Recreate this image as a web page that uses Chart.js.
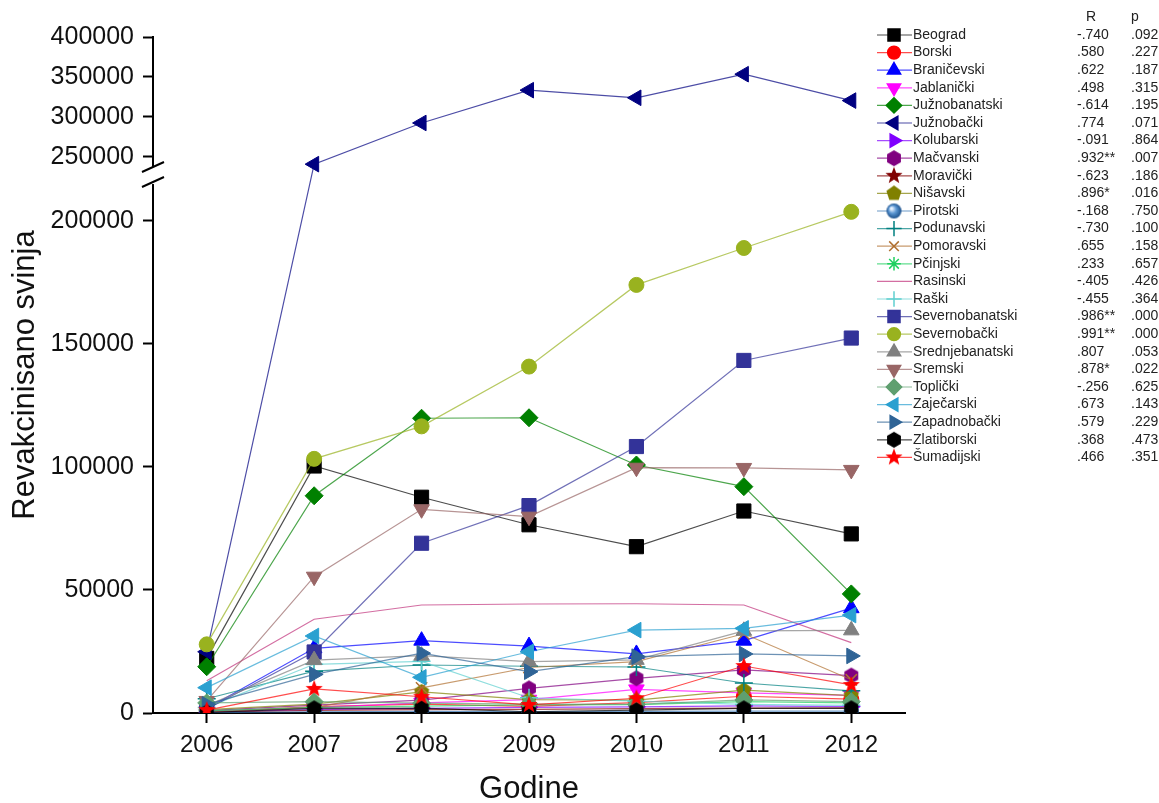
<!DOCTYPE html>
<html lang="sr">
<head>
  <meta charset="UTF-8">
  <title>Revakcinisano svinja po okruzima</title>
  <style>
    body { margin: 0; background: #fff; }
    #wrap { width: 1159px; height: 803px; }
  </style>
  <script src="https://cdn.jsdelivr.net/npm/chart.js"></script>
</head>
<body>
<div id="wrap"><canvas id="chart" width="1159" height="803"></canvas></div>
<script>
// ---- data ----
var years = ['2006', '2007', '2008', '2009', '2010', '2011', '2012'];
var yTicks = [0, 50000, 100000, 150000, 200000, 250000, 300000, 350000, 400000];

var districts = ['Beograd', 'Borski', 'Braničevski', 'Jablanički', 'Južnobanatski', 'Južnobački',
  'Kolubarski', 'Mačvanski', 'Moravički', 'Nišavski', 'Pirotski', 'Podunavski', 'Pomoravski',
  'Pčinjski', 'Rasinski', 'Raški', 'Severnobanatski', 'Severnobački', 'Srednjebanatski',
  'Sremski', 'Toplički', 'Zaječarski', 'Zapadnobački', 'Zlatiborski', 'Šumadijski'];
var rValues = ['-.740', '.580', '.622', '.498', '-.614', '.774', '-.091', '.932**', '-.623', '.896*',
  '-.168', '-.730', '.655', '.233', '-.405', '-.455', '.986**', '.991**', '.807', '.878*',
  '-.256', '.673', '.579', '.368', '.466'];
var pValues = ['.092', '.227', '.187', '.315', '.195', '.071', '.864', '.007', '.186', '.016',
  '.750', '.100', '.158', '.657', '.426', '.364', '.000', '.000', '.053', '.022',
  '.625', '.143', '.229', '.473', '.351'];

var beograd = [22200, 100400, 87700, 76500, 67600, 82100, 72800];
var borski = [300, 2600, 3600, 2700, 4200, 6800, 5600];
var branicevski = [1800, 26300, 29400, 27200, 24000, 29400, 42600];
var jablanicki = [700, 2200, 4100, 5400, 9600, 8200, 7200];
var juznobanatski = [18800, 88300, 119800, 120000, 100800, 92000, 48400];
var juznobacki = [24900, 241000, 292500, 333500, 324000, 353500, 320500];
var kolubarski = [400, 1400, 1900, 2300, 2500, 2900, 2600];
var macvanski = [1000, 3200, 5200, 10000, 14100, 17500, 15200];
var moravicki = [300, 1100, 1400, 1500, 1800, 2000, 2100];
var nisavski = [1400, 3600, 8600, 5400, 5200, 9300, 7100];
var pirotski = [150, 500, 700, 600, 700, 800, 800];
var podunavski = [5800, 17000, 19500, 19000, 18700, 12200, 9000];
var pomoravski = [500, 2200, 10200, 18500, 20900, 32200, 13500];
var pcinjski = [900, 2300, 2800, 3300, 3400, 4600, 4100];
var rasinski = [13100, 38100, 43900, 44300, 44400, 43900, 28600];
var raski = [2200, 19800, 21000, 6200, 4800, 3500, 3100];
var severnobanatski = [1500, 24800, 69000, 84300, 108300, 143300, 152400];
var severnobacki = [27900, 103300, 116500, 140800, 174000, 189000, 203700];
var srednjebanatski = [3000, 21500, 23300, 20900, 21600, 33400, 33600];
var sremski = [4900, 55400, 82800, 79800, 99700, 99600, 98800];
var toplicki = [4100, 4600, 4000, 3600, 3500, 5300, 4600];
var zajecarski = [10300, 31300, 14500, 24900, 33700, 34400, 39800];
var zapadnobacki = [3500, 15700, 24300, 16800, 22900, 24000, 23200];
var zlatiborski = [200, 1900, 2000, 500, 1200, 1900, 1900];
var sumadijski = [1200, 9800, 6600, 3300, 6000, 19100, 11400];

var seriesData = [beograd, borski, branicevski, jablanicki, juznobanatski, juznobacki,
  kolubarski, macvanski, moravicki, nisavski, pirotski, podunavski, pomoravski,
  pcinjski, rasinski, raski, severnobanatski, severnobacki, srednjebanatski,
  sremski, toplicki, zajecarski, zapadnobacki, zlatiborski, sumadijski];

// ---- styles ----
var colors = ['#000000', '#ff0000', '#0000ff', '#ff00ff', '#008000', '#000080',
  '#8000ff', '#800080', '#800000', '#808000', '#2f6fb0', '#008080', '#b07030',
  '#20d060', '#c0307a', '#60d0d0', '#333399', '#99b21f', '#808080',
  '#996666', '#5f9f6f', '#2aa0d0', '#2f6496', '#000000', '#ff0000'];
// [pointStyle, rotation, radius]
var markers = [
  ['rect', 0, 10], ['circle', 0, 7.5], ['triangle', 0, 9], ['triangle', 180, 9],
  ['rectRot', 0, 9], ['triangle', 270, 9], ['triangle', 90, 9], ['hexagon', 0, 8],
  ['star5', 0, 9], ['pentagon', 0, 8], ['sphere', 0, 7.5], ['cross', 0, 9],
  ['crossRot', 0, 8], ['star', 0, 8], ['none', 0, 0], ['cross', 0, 9],
  ['rect', 0, 10], ['circle', 0, 7.5], ['triangle', 0, 9], ['triangle', 180, 9],
  ['rectRot', 0, 9], ['triangle', 270, 9], ['triangle', 90, 9], ['hexagon', 0, 8],
  ['star5', 0, 9]
];

// axis break settings
var BREAK_LOW = 215000, BREAK_HIGH = 240000, Y_MAX = 400000;
var LOW_FRAC = 0.7825, HIGH_FRAC = 0.8107;
var FONT = 'Arial, "Liberation Sans", sans-serif';

function fade(hex, a) {
  var n = parseInt(hex.slice(1), 16);
  return 'rgba(' + (n >> 16) + ',' + ((n >> 8) & 255) + ',' + (n & 255) + ',' + a + ')';
}

// small canvases for the marker shapes Chart.js doesn't have
function makeMarker(shape, color, r) {
  var size = Math.ceil(r * 2) + 2;
  var c = document.createElement('canvas');
  c.width = size; c.height = size;
  var g = c.getContext('2d');
  var cx = size / 2, cy = size / 2, k, a;
  g.fillStyle = color;
  g.beginPath();
  if (shape === 'hexagon' || shape === 'pentagon') {
    var n = shape === 'hexagon' ? 6 : 5;
    for (k = 0; k < n; k++) {
      a = -Math.PI / 2 + k * 2 * Math.PI / n;
      g.lineTo(cx + r * Math.cos(a), cy + r * Math.sin(a));
    }
  } else if (shape === 'star5') {
    for (k = 0; k < 10; k++) {
      a = -Math.PI / 2 + k * Math.PI / 5;
      var rr = k % 2 === 0 ? r : r * 0.42;
      g.lineTo(cx + rr * Math.cos(a), cy + rr * Math.sin(a));
    }
  } else if (shape === 'sphere') {
    var grad = g.createRadialGradient(cx - r * 0.35, cy - r * 0.35, 1, cx, cy, r);
    grad.addColorStop(0, '#e8f2ff');
    grad.addColorStop(0.45, '#5a96d2');
    grad.addColorStop(1, '#1a4f8a');
    g.fillStyle = grad;
    g.arc(cx, cy, r, 0, Math.PI * 2);
  }
  g.closePath();
  g.fill();
  return c;
}

function pointStyleFor(i) {
  var m = markers[i];
  if (m[0] === 'hexagon' || m[0] === 'pentagon' || m[0] === 'star5' || m[0] === 'sphere') {
    return makeMarker(m[0], colors[i], m[2]);
  }
  return m[0] === 'none' ? 'circle' : m[0];
}

// ---- y scale with a break between 215000 and 240000 ----
function toDecimal(v) {
  if (v <= BREAK_LOW) return v / BREAK_LOW * LOW_FRAC;
  if (v >= BREAK_HIGH) return HIGH_FRAC + (v - BREAK_HIGH) / (Y_MAX - BREAK_HIGH) * (1 - HIGH_FRAC);
  return LOW_FRAC + (v - BREAK_LOW) / (BREAK_HIGH - BREAK_LOW) * (HIGH_FRAC - LOW_FRAC);
}
function fromDecimal(d) {
  if (d <= LOW_FRAC) return d / LOW_FRAC * BREAK_LOW;
  if (d >= HIGH_FRAC) return BREAK_HIGH + (d - HIGH_FRAC) / (1 - HIGH_FRAC) * (Y_MAX - BREAK_HIGH);
  return BREAK_LOW + (d - LOW_FRAC) / (HIGH_FRAC - LOW_FRAC) * (BREAK_HIGH - BREAK_LOW);
}

class BrokenScale extends Chart.LinearScale {
  buildTicks() {
    return yTicks.map(function (v) { return { value: v }; });
  }
  getPixelForValue(value) {
    if (value === null || value === undefined) return NaN;
    return this.getPixelForDecimal(toDecimal(value));
  }
  getValueForPixel(pixel) {
    return fromDecimal(this.getDecimalForPixel(pixel));
  }
}
BrokenScale.id = 'broken';
BrokenScale.defaults = Chart.LinearScale.defaults;
Chart.register(BrokenScale);

// axis break marks + legend with R / p columns
var extrasPlugin = {
  id: 'extras',
  afterDraw: function (chart) {
    var ctx = chart.ctx;
    var ys = chart.scales.y;
    var x = chart.chartArea.left;
    var yHi = ys.getPixelForValue(BREAK_HIGH);
    var yLo = ys.getPixelForValue(BREAK_LOW);
    ctx.save();
    ctx.fillStyle = '#fff';
    ctx.fillRect(x - 3, yHi + 2, 6, yLo - yHi - 2);
    ctx.strokeStyle = '#000';
    ctx.lineWidth = 2;
    ctx.beginPath();
    ctx.moveTo(x - 11, yHi + 7); ctx.lineTo(x + 11, yHi - 3);
    ctx.moveTo(x - 11, yLo + 3); ctx.lineTo(x + 11, yLo - 7);
    ctx.stroke();

    // legend
    var top = 35, step = 17.6;
    ctx.font = '14px ' + FONT;
    ctx.textBaseline = 'middle';
    ctx.fillStyle = '#222';
    ctx.fillText('R', 1086, 17);
    ctx.fillText('p', 1131, 17);
    for (var i = 0; i < districts.length; i++) {
      var y = top + i * step;
      var ds = chart.data.datasets[i];
      ctx.strokeStyle = ds.borderColor;
      ctx.lineWidth = 1.2;
      ctx.beginPath();
      ctx.moveTo(877, y); ctx.lineTo(912, y);
      ctx.stroke();
      if (markers[i][0] !== 'none') {
        ctx.fillStyle = colors[i];
        ctx.strokeStyle = colors[i];
        ctx.lineWidth = 1.5;
        Chart.helpers.drawPoint(ctx, {
          pointStyle: ds.pointStyle, rotation: markers[i][1],
          radius: markers[i][2] * 0.85, borderWidth: 1.5
        }, 894, y);
      }
      ctx.fillStyle = '#222';
      ctx.fillText(districts[i], 913, y);
      ctx.fillText(rValues[i], 1077, y);
      ctx.fillText(pValues[i], 1131, y);
    }
    ctx.restore();
  }
};

var datasets = districts.map(function (name, i) {
  var m = markers[i];
  var lineMarker = m[0] === 'cross' || m[0] === 'crossRot' || m[0] === 'star';
  return {
    label: name,
    data: seriesData[i],
    borderColor: fade(colors[i], 0.7),
    borderWidth: 1.2,
    tension: 0,
    pointStyle: pointStyleFor(i),
    pointRotation: m[1],
    pointRadius: m[2],
    pointBackgroundColor: colors[i],
    pointBorderColor: colors[i],
    pointBorderWidth: lineMarker ? 1.5 : 1,
    order: -i   // later series drawn on top, like the original
  };
});

var chart = new Chart(document.getElementById('chart').getContext('2d'), {
  type: 'line',
  data: { labels: years, datasets: datasets },
  plugins: [extrasPlugin],
  options: {
    responsive: false,
    animation: false,
    devicePixelRatio: 1,
    layout: { padding: { top: 37, right: 254, left: 0, bottom: 0 } },
    plugins: { legend: { display: false }, tooltip: { enabled: false } },
    scales: {
      x: {
        type: 'category',
        offset: true,
        grid: { offset: false, drawOnChartArea: false, drawTicks: true, tickLength: 10,
          tickWidth: 2, tickColor: '#000' },
        border: { display: true, color: '#000', width: 2 },
        ticks: { color: '#111', padding: 8, font: { family: FONT, size: 24 } },
        title: { display: true, text: 'Godine', color: '#111', padding: { top: 0, bottom: -2 },
          font: { family: FONT, size: 31, lineHeight: 1 } },
        afterFit: function (scale) { scale.height = 90; }
      },
      y: {
        type: 'broken',
        min: 0,
        max: Y_MAX,
        grid: { drawOnChartArea: false, drawTicks: true, tickLength: 10,
          tickWidth: 2, tickColor: '#000' },
        border: { display: true, color: '#000', width: 2 },
        ticks: { color: '#111', padding: 9, autoSkip: false, font: { family: FONT, size: 25 },
          callback: function (v) { return String(v); } },
        title: { display: true, text: 'Revakcinisano svinja', color: '#111', padding: { top: 7, bottom: 0 },
          font: { family: FONT, size: 31 } },
        afterFit: function (scale) { scale.width = 153; }
      }
    }
  }
});
</script>
</body>
</html>
